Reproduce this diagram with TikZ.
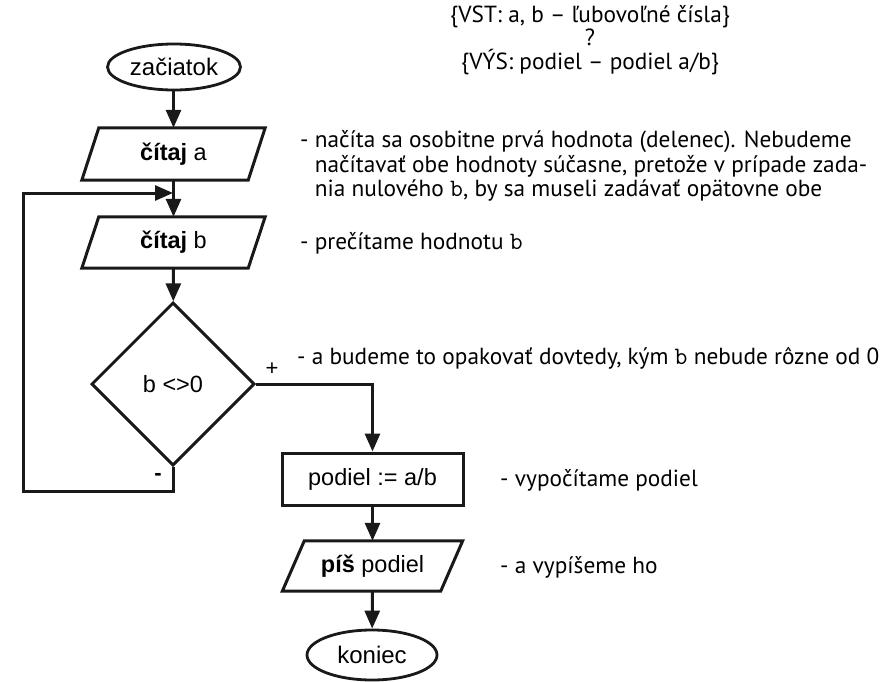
\documentclass[tikz,border=0pt]{standalone}
\usepackage{fontspec}
\setmainfont{Liberation Sans}
\newfontfamily\notefont{PT Sans}
\usetikzlibrary{shapes.geometric,arrows.meta}

\tikzset{
  flow/.style={line width=3pt, draw=black!90},
  arr/.style={flow, -{Triangle[length=18pt,width=15pt]}},
  terminal/.style={ellipse, draw=black!90, line width=2.8pt, inner sep=0pt, font=\fontsize{24}{28}\selectfont},
  iobox/.style={rectangle, inner sep=0pt, font=\fontsize{23.5}{28}\selectfont},
  procbox/.style={rectangle, draw=black!90, line width=3pt, inner sep=0pt, font=\fontsize{23.5}{28}\selectfont},
  decision/.style={diamond, draw=black!90, line width=3pt, inner sep=0pt, aspect=1, font=\fontsize{23.5}{28}\selectfont},
  note/.style={anchor=base west, align=left, inner sep=0pt, font=\notefont\fontsize{23.3}{24}\selectfont},
  header/.style={align=center, inner sep=0pt, font=\notefont\fontsize{23.3}{23.5}\selectfont},
  sign/.style={inner sep=0pt, font=\fontsize{22}{24}\selectfont}
}

% typewriter variable inside comments
\newcommand{\varb}{{\ttfamily\fontsize{25}{24}\selectfont b}}

% draw a slanted input/output box around a plain node
\newcommand{\slantbox}[2]{%
  \draw[flow, line join=miter]
    ([xshift=-#2]#1.south west) -- ([xshift=-#2]#1.south east) --
    ([xshift=#2]#1.north east) -- ([xshift=#2]#1.north west) -- cycle;}

\begin{document}
\begin{tikzpicture}[x=1pt,y=-1pt]
\useasboundingbox (0,0) rectangle (894,682);

% specification
\node[header] (spec) at (590,40) {\{VST: a, b – ľubovoľné čísla\}\\?\\\{VÝS: podiel – podiel a/b\}};

% flowchart nodes
\node[terminal, minimum width=133pt, minimum height=46pt] (start) at (174,67) {začiatok};
\node[iobox, minimum width=166pt, minimum height=52pt] (rda) at (173.5,154) {\textbf{čítaj} a};
\node[iobox, minimum width=166pt, minimum height=51pt] (rdb) at (173.5,242.5) {\textbf{čítaj} b};
\node[decision, minimum width=163pt, minimum height=163pt] (dec) at (173,384) {b <>0};
\node[procbox, minimum width=181pt, minimum height=52pt] (calc) at (372.5,479) {podiel := a/b};
\node[iobox, minimum width=158pt, minimum height=50pt] (out) at (372.5,566) {\textbf{píš} podiel};
\node[terminal, minimum width=130pt, minimum height=50pt] (stop) at (372,655) {koniec};

\slantbox{rda}{8.5}
\slantbox{rdb}{8.5}
\slantbox{out}{11}

% loop corners
\coordinate (lpb) at (23,491);
\coordinate (lpj) at (173,193);

% connectors
\draw[arr] (start.south -| rda.north) -- (rda);
\draw[arr] (rda) -- (rdb);
\draw[arr] (rdb) -- (dec);
\draw[arr] (dec.east) -| (calc.north);
\draw[arr] (dec.south) |- (lpb) |- (lpj);
\draw[arr] (calc) -- (out);
\draw[arr] (out) -- (stop);

% branch signs
\node[sign] (plus) at (272,369) {+};
\node[sign] (minus) at (158,477) {\textbf{-}};

% comments
\node[note] (n1) at (300,196) {- načíta sa osobitne prvá hodnota (delenec). Nebudeme\\
\hphantom{- }načítavať obe hodnoty súčasne, pretože v prípade zada-\\
\hphantom{- }nia nulového \varb, by sa museli zadávať opätovne obe};
\node[note] (n2) at (300,249) {- prečítame hodnotu \varb};
\node[note] (n3) at (297,364) {- a budeme to opakovať dovtedy, kým \varb{} nebude rôzne od 0};
\node[note] (n4) at (500,486) {- vypočítame podiel};
\node[note] (n5) at (500,573) {- a vypíšeme ho};
\end{tikzpicture}
\end{document}
